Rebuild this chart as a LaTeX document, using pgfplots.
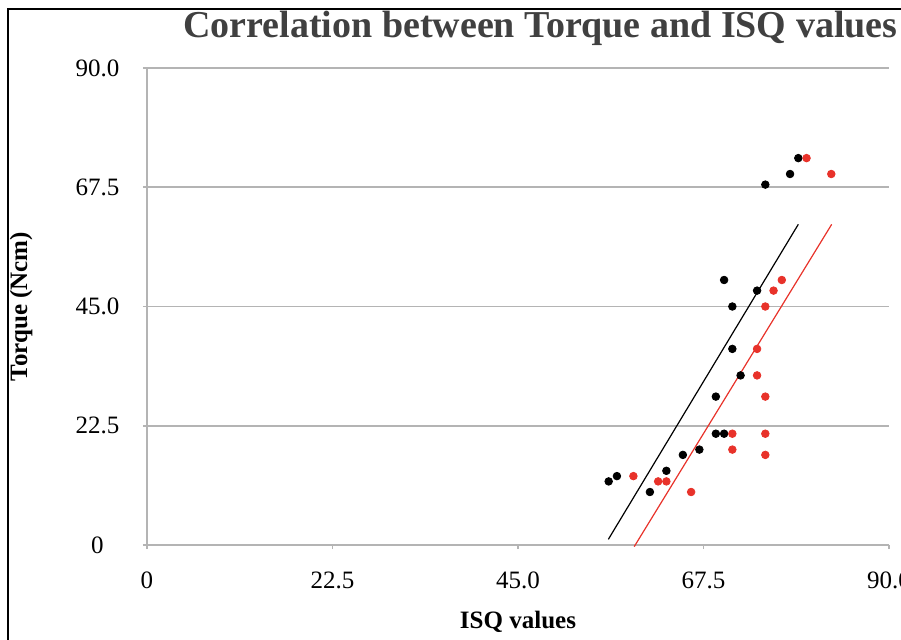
\documentclass[border=0pt]{standalone}
\usepackage{fontspec}
\setmainfont{Liberation Serif}
\usepackage{pgfplots}
\pgfplotsset{compat=1.18}
\definecolor{dotred}{RGB}{232,50,42}
\definecolor{gridgray}{RGB}{180,180,180}
\definecolor{titlegray}{RGB}{64,64,64}

\begin{document}
\begin{tikzpicture}
% page: 901x639 px at 0.5pt per px, axis box south west at (0,0)
\useasboundingbox (-73.5pt,-47pt) rectangle (377pt,272.5pt);
\draw[line width=1pt] (-69.5pt,-48pt) -- (-69.5pt,268pt) -- (378pt,268pt);
\begin{axis}[
    scale only axis,
    width=371pt, height=238.5pt,
    xmin=0, xmax=90, ymin=0, ymax=90,
    axis lines=left,
    axis line style={-, draw=gridgray, line width=0.8pt},
    xtick={0,22.5,45,67.5,90},
    xticklabels={0,22.5,45.0,67.5,90.0},
    ytick={0,22.5,45,67.5,90},
    yticklabels={0,22.5,45.0,67.5,90.0},
    ymajorgrids,
    grid style={gridgray, line width=0.8pt},
    tick align=outside,
    major tick length=2pt,
    tick style={gridgray, line width=0.8pt},
    every tick label/.append style={font=\fontsize{12.5pt}{15pt}\selectfont, text=black},
    xticklabel style={anchor=center, yshift=-15.5pt},
    yticklabel style={anchor=center, xshift=-22.75pt},
    xlabel={\textbf{ISQ values}},
    ylabel={\textbf{Torque (Ncm)}},
    label style={font=\fontsize{12.5pt}{15pt}\selectfont},
    xlabel style={at={(axis description cs:0.5,0)}, anchor=base, yshift=-41.5pt},
    ylabel style={at={(axis description cs:0,0.5)}, anchor=center, rotate=0, yshift=63pt},
    clip=false,
]
\addplot[only marks, mark=*, mark size=1.9pt, color=black] coordinates {
    (56,12) (57,13) (61,10) (63,14) (65,17) (67,18) (69,21) (70,21)
    (69,28) (72,32) (71,37) (70,50) (74,48) (71,45) (75,68) (78,70) (79,73)
};
\addplot[only marks, mark=*, mark size=1.9pt, color=dotred] coordinates {
    (59,13) (62,12) (63,12) (66,10) (71,21) (71,18) (75,21) (75,17)
    (75,28) (74,32) (74,37) (77,50) (76,48) (75,45) (80,73) (83,70)
};
\addplot[black, line width=0.6pt] coordinates {(55.96,1.07) (79.0,60.5)};
\addplot[dotred, line width=0.6pt] coordinates {(59.1,-0.3) (83.05,60.5)};
\end{axis}
\node[anchor=base west, inner sep=0pt, text=titlegray, font=\bfseries\fontsize{19pt}{22pt}\selectfont]
    at (18pt,254pt) {Correlation between Torque and ISQ values};
\end{tikzpicture}
\end{document}
